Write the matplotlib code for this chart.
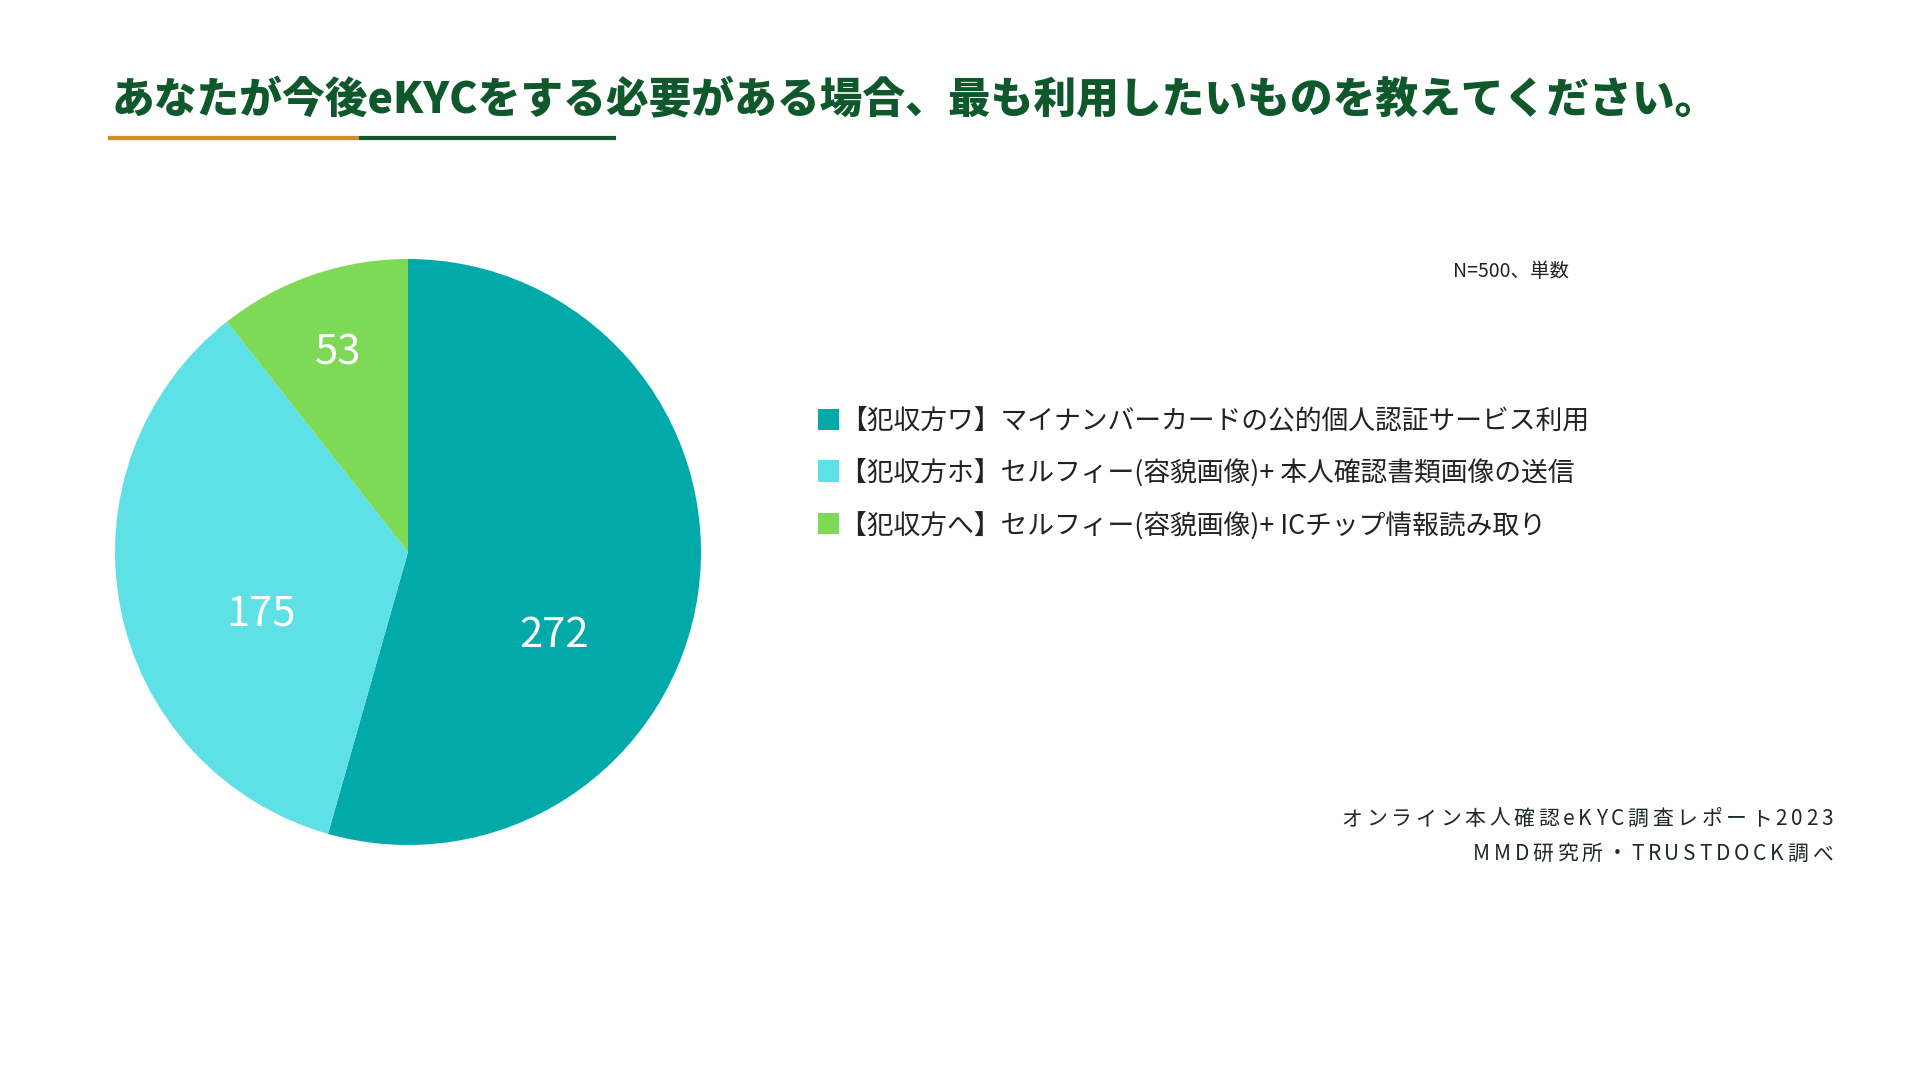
import matplotlib
matplotlib.use("Agg")
import matplotlib.pyplot as plt
import matplotlib.font_manager as fm
from matplotlib.ft2font import FT2Font
from matplotlib.patches import Rectangle
from matplotlib.lines import Line2D
import numpy as np

plt.rcParams["font.family"] = ["Noto Sans CJK JP", "DejaVu Sans"]

W, H = 1920, 1080

TITLE = "あなたが今後eKYCをする必要がある場合、最も利用したいものを教えてください。"
CATEGORIES = [
    "【犯収方ワ】マイナンバーカードの公的個人認証サービス利用",
    "【犯収方ホ】セルフィー(容貌画像)+ 本人確認書類画像の送信",
    "【犯収方へ】セルフィー(容貌画像)+ ICチップ情報読み取り",
]
COUNTS = [272, 175, 53]
COLORS = ["#02A9A9", "#5EE1E6", "#7ED957"]
NOTE = "N=500、単数"
SOURCE_LINES = ["オンライン本人確認eKYC調査レポート2023", "MMD研究所・TRUSTDOCK調べ"]

# label placement tweaks (radius fraction, angle shift in degrees)
LABEL_RADIUS = [0.57, 0.54, 0.73]
LABEL_SHIFT = [-21, 10.5, 0]

TITLE_GREEN = "#0F582C"
TEXT_DARK = "#222222"
SOURCE_COLOR = "#1C2B22"


def fx(x):
    return x / W


def fy(y):
    return 1 - y / H


def char_advances(s, size):
    font = FT2Font(fm.findfont(fm.FontProperties(family="Noto Sans CJK JP")))
    font.set_size(size, 100)
    return [font.load_char(ord(c)).linearHoriAdvance / 65536 for c in s]


def spaced_text(fig, x_right, y, s, size, spacing, **kw):
    # char by char drawing to get the letter spacing, right aligned
    advs = char_advances(s, size)
    x = x_right - sum(advs) - spacing * (len(s) - 1)
    for c, a in zip(s, advs):
        fig.text(fx(x + a / 2), fy(y), c, ha="center", va="baseline",
                 fontsize=size, **kw)
        x += a + spacing


fig = plt.figure(figsize=(W / 100, H / 100), dpi=100)
fig.patch.set_facecolor("white")

# title and underline
fig.text(fx(112), fy(113), TITLE, ha="left", va="baseline", fontsize=30.75,
         fontweight="heavy", color=TITLE_GREEN)
fig.add_artist(Line2D([fx(108), fx(359)], [fy(138), fy(138)], color="#D4892C",
                      linewidth=3, solid_capstyle="butt"))
fig.add_artist(Line2D([fx(359), fx(616)], [fy(138), fy(138)], color=TITLE_GREEN,
                      linewidth=3, solid_capstyle="butt"))

# pie
cx, cy, r = 408, 552, 293
ax = fig.add_axes([fx(cx - r), fy(cy + r), 2 * r / W, 2 * r / H])
wedges, _ = ax.pie(COUNTS, colors=COLORS, startangle=90, counterclock=False,
                   radius=1, wedgeprops=dict(linewidth=0))
ax.set_xlim(-1, 1)
ax.set_ylim(-1, 1)
ax.set_aspect("equal")
ax.axis("off")

for w, val, rad, shift in zip(wedges, COUNTS, LABEL_RADIUS, LABEL_SHIFT):
    mid = np.deg2rad((w.theta1 + w.theta2) / 2 + shift)
    ax.text(rad * np.cos(mid), rad * np.sin(mid) - 0.011, str(val), ha="center",
            va="center", fontsize=30, color="white")

# legend
rows_y = [419, 471, 524]
for label, color, y in zip(CATEGORIES, COLORS, rows_y):
    fig.add_artist(Rectangle((fx(818), fy(y + 10.5)), 21 / W, 21 / H,
                             facecolor=color, edgecolor="none",
                             transform=fig.transFigure))
    fig.text(fx(840), fy(y + 2.5), label, ha="left", va="center", fontsize=19.3,
             color=TEXT_DARK)

fig.text(fx(1569), fy(272), NOTE, ha="right", va="center", fontsize=14,
         color=TEXT_DARK)

for line, y in zip(SOURCE_LINES, [825, 860]):
    spaced_text(fig, 1833, y, line, 15, 3.8, color=SOURCE_COLOR)

fig.savefig("out.png", dpi=100, facecolor="white")
